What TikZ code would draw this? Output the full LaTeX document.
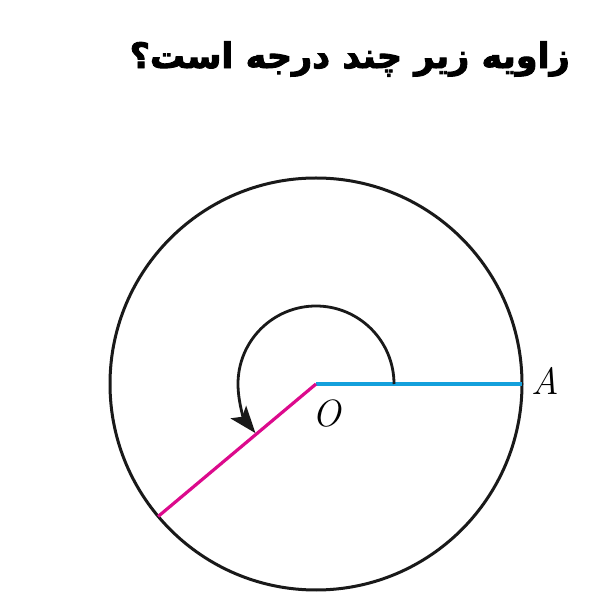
\documentclass[tikz,border=0pt]{standalone}
\usepackage{fontspec}
\newfontfamily\arabicfont[Script=Arabic]{DejaVu Sans}
\TeXXeTstate=1
\usetikzlibrary{arrows.meta,calc}
\definecolor{rayblue}{RGB}{20,160,220}
\definecolor{raymag}{RGB}{220,10,140}
\newcommand{\heavytext}[1]{\special{pdf:literal direct 2 Tr 0.9 w}#1\special{pdf:literal direct 0 Tr}}
\tikzset{
  ray/.style={line width=3.2pt},
  rim/.style={line width=3pt, draw=black!90},
  turn/.style={line width=2.8pt, draw=black!90, -{Stealth[length=27pt,width=20pt,inset=6pt]}},
  lbl/.style={font=\fontsize{38}{40}\selectfont\itshape, inner sep=0pt}
}
\begin{document}
\begin{tikzpicture}[x=1pt,y=1pt]
\useasboundingbox (0,0) rectangle (600,600);
\node[anchor=east, inner sep=0pt, font=\arabicfont\bfseries\fontsize{35}{38}\selectfont] (title) at (570,541) {\heavytext{\beginR زاویه زیر چند درجه است؟\endR}};
\coordinate (O) at (316,216);
\coordinate (A) at (522,216);
\coordinate (B) at ($(O)+(220:206)$);
\draw[rim] (O) circle (206);
\draw[ray, rayblue] (O) -- (A);
\draw[ray, raymag] (O) -- (B);
\draw[turn] ($(O)+(0:78)$) arc (0:219:78);
\node[lbl] (lA) at (545,219) {A};
\node[lbl] (lO) at (327,186) {O};
\end{tikzpicture}
\end{document}
